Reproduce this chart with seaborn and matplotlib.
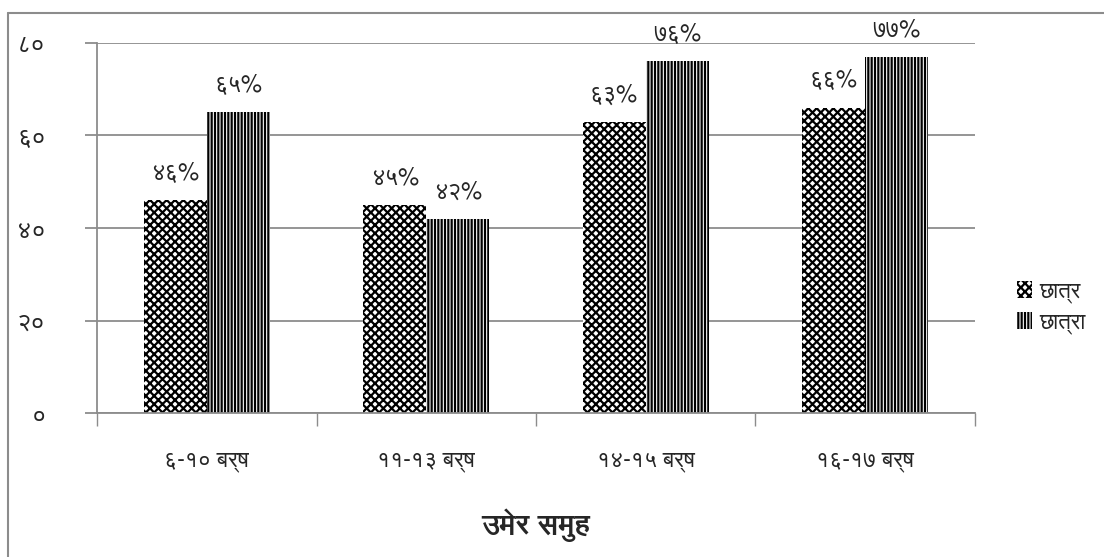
import matplotlib
matplotlib.use("Agg")
import matplotlib.pyplot as plt
import seaborn as sns
import pandas as pd
from matplotlib.lines import Line2D

# data
groups = ["६-१० बर्ष", "११-१३ बर्ष", "१४-१५ बर्ष", "१६-१७ बर्ष"]
series = ["छात्र", "छात्रा"]
boys = [46, 45, 63, 66]
girls = [65, 42, 76, 77]
yticks = [0, 20, 40, 60, 80]
ytick_labels = ["०", "२०", "४०", "६०", "८०"]
boys_labels = ["४६%", "४५%", "६३%", "६६%"]
girls_labels = ["६५%", "४२%", "७६%", "७७%"]
xlabel = "उमेर समुह"

sns.set_theme(style="white")
plt.rcParams["font.family"] = ["FreeSans", "DejaVu Sans"]
plt.rcParams["hatch.linewidth"] = 1.6

df = pd.DataFrame({
    "group": groups * 2,
    "series": [series[0]] * 4 + [series[1]] * 4,
    "value": boys + girls,
})

grey = "#8c8c8c"
fig, ax = plt.subplots(figsize=(11.04, 5.57), dpi=100)
fig.subplots_adjust(left=0.088, right=0.883, top=0.923, bottom=0.258)

sns.barplot(data=df, x="group", y="value", hue="series", palette=["white", "white"],
            width=0.575, gap=0, edgecolor="none", ax=ax, legend=True)

hatches = ["xxxx", "|||||"]
for i, cont in enumerate(ax.containers):
    for p in cont:
        p.set_hatch(hatches[i])
        p.set_edgecolor("black")
        p.set_linewidth(0)

for cont, labs in zip(ax.containers, [boys_labels, girls_labels]):
    ax.bar_label(cont, labels=labs, padding=11, fontsize=17)

ax.set_ylim(0, 80)
ax.set_yticks(yticks)
ax.set_yticklabels(ytick_labels, fontsize=18)
ax.yaxis.grid(True, color=grey, linewidth=1.3)
ax.set_axisbelow(True)

# category boundary ticks on the x axis, like the reference
ax.set_xticks([-0.5, 0.5, 1.5, 2.5, 3.5], minor=True)
ax.tick_params(axis="x", which="major", length=0, labelsize=16.5, pad=26)
ax.tick_params(axis="x", which="minor", length=9, width=1, color=grey, direction="out", bottom=True)
ax.tick_params(axis="y", length=9, width=1.3, color=grey, direction="out", left=True, pad=28)
ax.set_xlim(-0.5, 3.5)
ax.set_xlabel(xlabel, fontsize=21, fontweight="bold", labelpad=26)
ax.set_ylabel("")
for s in ["top", "right"]:
    ax.spines[s].set_visible(False)
for s in ["left", "bottom"]:
    ax.spines[s].set_color(grey)
    ax.spines[s].set_linewidth(1.3)

leg = ax.legend(loc="center left", bbox_to_anchor=(1.025, 0.285), frameon=False,
                fontsize=16, handlelength=0.7, handleheight=0.8, handletextpad=0.3,
                labelspacing=0.4)
for h, hz in zip(leg.legend_handles, hatches):
    h.set_hatch(hz)
    h.set_edgecolor("black")
    h.set_linewidth(0)

# partial frame round the chart area (top and left only)
fig.add_artist(Line2D([0.00725, 1.0], [0.9767, 0.9767], transform=fig.transFigure, color=grey, linewidth=1.5))
fig.add_artist(Line2D([0.00725, 0.00725], [0.0, 0.9767], transform=fig.transFigure, color=grey, linewidth=1.5))

fig.savefig("out.png", dpi=100)
